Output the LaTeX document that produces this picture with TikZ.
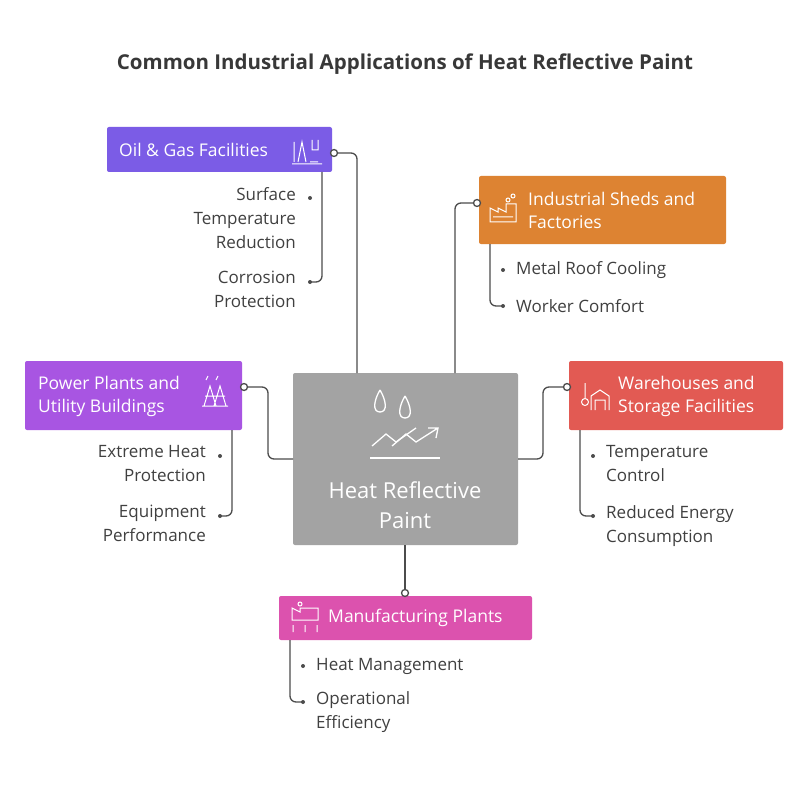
\documentclass[tikz,border=0pt]{standalone}
\usepackage{fontspec}
\setmainfont{Open Sans}
\definecolor{cOil}{HTML}{7B5CE6}
\definecolor{cInd}{HTML}{DD8332}
\definecolor{cPow}{HTML}{A855E2}
\definecolor{cWar}{HTML}{E25A53}
\definecolor{cMan}{HTML}{DC52AE}
\definecolor{cCen}{HTML}{A3A3A3}
\begin{document}
\begin{tikzpicture}[x=1pt,y=-1pt,
 box/.style={rounded corners=2pt,draw=none},
 lbl/.style={text=white,font=\fontsize{17.5}{23}\selectfont,align=left,anchor=west,inner sep=0},
 sub/.style={text=black!75,font=\fontsize{17}{24}\selectfont,inner sep=0},
 ln/.style={draw=black!70,line width=1.3pt,rounded corners=6pt},
 dot/.style={circle,fill=black!70,inner sep=0,minimum size=4pt},
 ring/.style={circle,draw=black!70,fill=white,line width=1.3pt,inner sep=0,minimum size=7pt},
 ico/.style={draw=white,line width=1pt}]
\useasboundingbox (0,0) rectangle (810,786);
\fill[white] (0,0) rectangle (810,786);
\node[font=\bfseries\fontsize{20.5}{24}\selectfont,text=black!78] (title) at (405,64) {Common Industrial Applications of Heat Reflective Paint};
% center
\fill[box,fill=cCen] (293,373) rectangle (518,545);
\node[text=white,font=\fontsize{22}{30}\selectfont,align=center] (c) at (405,505) {Heat Reflective\\Paint};
\draw[ico,line width=1.3pt] (380,390) .. controls (374,400) and (372,412) .. (380,412) .. controls (388,412) and (386,400) .. (380,390);
\draw[ico,line width=1.3pt] (405,396) .. controls (399,406) and (397,418) .. (405,418) .. controls (413,418) and (411,406) .. (405,396);
\draw[ico,line width=1.3pt] (372,446) -- (386,434) -- (396,442) -- (416,428);
\draw[ico,line width=1.3pt] (392,446) -- (406,434) -- (416,442) -- (438,428) (428,428)--(438,428)--(436,438);
\draw[ico,line width=1.3pt] (370,458) -- (440,458);
\coordinate (ctop1) at (357,373); \coordinate (ctop2) at (455,373);
\coordinate (cl) at (293,459); \coordinate (cr) at (518,459); \coordinate (cb) at (405,545);
% Oil & gas
\fill[box,fill=cOil] (107,127) rectangle (332,172);
\node[lbl] (oil) at (119,150) {Oil \& Gas Facilities};
\draw[ico] (294,162)--(294,142) (298,162)--(302,142)--(306,162) (310,162)--(318,162) (312,140)--(312,150)--(318,150)--(318,140) (292,164)--(322,164);
\draw[ln] (332,153) -| (ctop1);
\node[ring] at (334,153) {};
\draw[ln] (322,172) |- (310,282);
\node[dot] at (310,198) {}; \node[dot] at (310,282) {};
\node[sub,align=right,anchor=north east] at (296,187) {Surface\\Temperature\\Reduction};
\node[sub,align=right,anchor=north east] at (296,271) {Corrosion\\Protection};
% Industrial sheds
\fill[box,fill=cInd] (479,176) rectangle (726,244);
\node[lbl] (ind) at (528,210) {Industrial Sheds and\\Factories};
\draw[ico] (490,222)--(490,208)--(498,212)--(498,208)--(506,212)--(506,204)--(516,204)--(516,222)--cycle (493,217)--(513,217) (508,200) circle (2) (513,196) circle (2);
\draw[ln] (479,203) -| (ctop2);
\node[ring] at (477,203) {};
\draw[ln] (490,244) |- (503,306);
\node[dot] at (503,270) {}; \node[dot] at (503,306) {};
\node[sub,anchor=west] at (516,270) {Metal Roof Cooling};
\node[sub,anchor=west] at (516,306) {Worker Comfort};
% Power plants
\fill[box,fill=cPow] (25,361) rectangle (242,430);
\node[lbl] (pow) at (38,396) {Power Plants and\\Utility Buildings};
\draw[ico] (204,406)--(210,386)--(216,406) (214,406)--(220,386)--(226,406) (202,406)--(228,406) (206,380)--(208,376) (216,380)--(218,376) (205,396)--(225,396);
\draw[ln] (242,387) -| (268,459) -- (cl);
\node[ring] at (244,387) {};
\draw[ln] (232,430) |- (220,516);
\node[dot] at (220,456) {}; \node[dot] at (220,516) {};
\node[sub,align=right,anchor=north east] at (206,445) {Extreme Heat\\Protection};
\node[sub,align=right,anchor=north east] at (206,505) {Equipment\\Performance};
% Warehouses
\fill[box,fill=cWar] (569,361) rectangle (783,430);
\node[lbl] (war) at (618,396) {Warehouses and\\Storage Facilities};
\draw[ico] (585,383)--(585,398) (585,402) circle (3.5) (591,410)--(591,396)--(600,390)--(609,396)--(609,410) (595,410)--(595,400)--(605,400)--(605,410);
\draw[ln] (569,387) -| (543,459) -- (cr);
\node[ring] at (567,387) {};
\draw[ln] (580,430) |- (593,516);
\node[dot] at (593,456) {}; \node[dot] at (593,516) {};
\node[sub,align=left,anchor=north west] at (606,445) {Temperature\\Control};
\node[sub,align=left,anchor=north west] at (606,505) {Reduced Energy\\Consumption};
% Manufacturing
\fill[box,fill=cMan] (279,596) rectangle (532,640);
\node[lbl] (man) at (328,618) {Manufacturing Plants};
\draw[ico] (292,620)--(292,608)--(300,612)--(300,608)--(318,608)--(318,620)--cycle (293,632)--(293,625) (305,632)--(305,625) (317,632)--(317,625) (300,604) circle (2);
\draw[ln] (cb) -- (405,593);
\node[ring] at (405,593) {};
\draw[ln] (290,640) |- (303,702);
\node[dot] at (303,666) {}; \node[dot] at (303,702) {};
\node[sub,anchor=west] at (316,666) {Heat Management};
\node[sub,align=left,anchor=north west] at (316,691) {Operational\\Efficiency};
\end{tikzpicture}
\end{document}
